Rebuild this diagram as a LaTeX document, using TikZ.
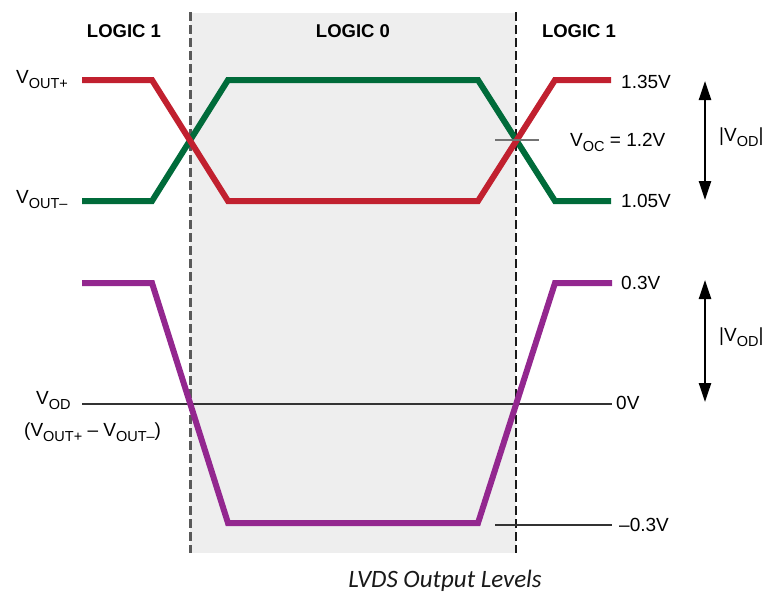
\documentclass[tikz,border=0pt]{standalone}
\usepackage{fontspec}
\setmainfont{Liberation Sans}
\newfontfamily\capfont{Carlito}
\usetikzlibrary{arrows.meta}
\definecolor{sigred}{HTML}{C1202F}
\definecolor{siggreen}{HTML}{006B3A}
\definecolor{sigpurple}{HTML}{93278F}
\definecolor{regiongray}{HTML}{EEEEEE}
\newcommand{\Vsub}[1]{V\raisebox{-5.5pt}{\fontsize{14.5}{15}\selectfont #1}}
\begin{document}
\begin{tikzpicture}[x=1pt,y=-1pt,
  txt/.style={inner sep=0pt, font=\fontsize{19}{22}\selectfont},
  logic/.style={txt, font=\fontsize{18.5}{22}\selectfont\bfseries},
  sig/.style={line width=6pt},
  divider/.style={line width=3pt, dash pattern=on 9pt off 4pt},
  refline/.style={line width=2pt, black!80},
  span/.style={line width=2.4pt, {Triangle[length=19pt,width=12pt]}-{Triangle[length=19pt,width=12pt]}}
]
\useasboundingbox (0,0) rectangle (782,608);
% shaded logic-0 region
\fill[regiongray] (190,13) rectangle (516,553);
% dividers
\coordinate (dLt) at (190,12); \coordinate (dLb) at (190,553);
\coordinate (dRt) at (516,12); \coordinate (dRb) at (516,553);
\draw[divider, black!65] (dLt) -- (dLb);
\draw[divider, black!90, line width=2.3pt] (dRt) -- (dRb);
% headers
\node[logic] (l1a) at (124,31) {LOGIC 1};
\node[logic] (l0) at (353,31) {LOGIC 0};
\node[logic] (l1b) at (579,31) {LOGIC 1};
% reference lines
\coordinate (z0) at (82,404); \coordinate (z1) at (612,404);
\draw[refline] (z0) -- (z1);
\coordinate (m0) at (495,525); \coordinate (m1) at (612,525);
\draw[refline] (m0) -- (m1);
% signals
\draw[sig, siggreen] (82,201) -- (152,201) -- (228,80) -- (478,80) -- (555,201) -- (611,201);
\draw[sig, sigred] (82,80) -- (152,80) -- (228,201) -- (478,201) -- (555,80) -- (611,80);
\draw[sig, sigpurple] (82,283) -- (152,283) -- (228,523) -- (478,523) -- (555,283) -- (612,283);
% common-mode tick
\coordinate (t0) at (495,140); \coordinate (t1) at (539,140);
\draw[line width=2pt, black!55] (t0) -- (t1);
% left labels
\node[txt, anchor=base west] (vp) at (16,83) {\Vsub{OUT+}};
\node[txt, anchor=base west] (vm) at (16,203) {\Vsub{OUT–}};
\node[txt, anchor=base west] (vod) at (36,404) {\Vsub{OD}};
\node[txt, anchor=base west] (vdiff) at (24,436) {(\Vsub{OUT+} – \Vsub{OUT–})};
% right labels
\node[txt, anchor=base west] (v135) at (621,88) {1.35V};
\node[txt, anchor=base west] (v105) at (621,207) {1.05V};
\node[txt, anchor=base west] (voc) at (570,146) {\Vsub{OC} = 1.2V};
\node[txt, anchor=base west] (v03) at (621,289) {0.3V};
\node[txt, anchor=base west] (v0) at (616,409) {0V};
\node[txt, anchor=base west] (vm03) at (619,531) {–0.3V};
% amplitude arrows
\coordinate (a1t) at (705,81); \coordinate (a1b) at (705,200);
\draw[span] (a1t) -- (a1b);
\coordinate (a2t) at (705,280); \coordinate (a2b) at (705,402);
\draw[span] (a2t) -- (a2b);
\node[txt, anchor=base west] (od1) at (719,141) {|\Vsub{OD}|};
\node[txt, anchor=base west] (od2) at (719,341) {|\Vsub{OD}|};
% caption
\node[inner sep=0pt, anchor=base, font=\capfont\itshape\fontsize{25}{28}\selectfont, black!90] (cap) at (445,587) {LVDS Output Levels};
\end{tikzpicture}
\end{document}
